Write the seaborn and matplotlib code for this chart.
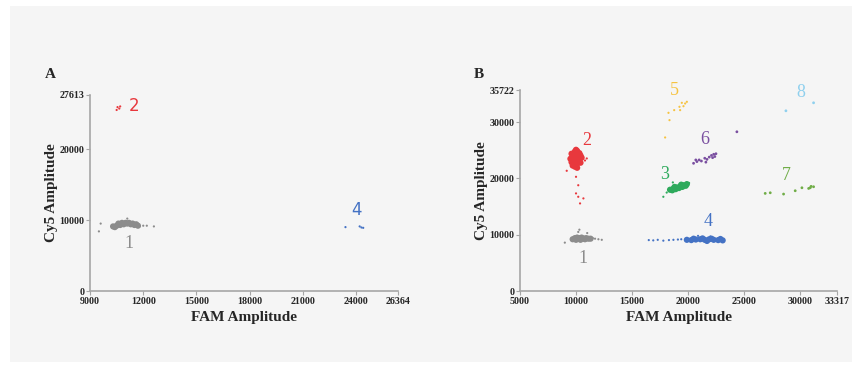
import pandas as pd
import seaborn as sns
import matplotlib.pyplot as plt
from matplotlib.patches import Rectangle

sns.set_theme(style="white")
plt.rcParams['font.family'] = ['Liberation Serif', 'DejaVu Serif']

# --- panel A droplets (FAM, Cy5) ---
a1_core_x = [10300, 10500, 10700, 10900, 11100, 11300, 11500, 11700, 10600, 10800, 11000, 11200, 11400, 10400, 11600]
a1_core_y = [9100, 9200, 9300, 9400, 9500, 9400, 9300, 9200, 9500, 9600, 9600, 9600, 9500, 9000, 9400]
a1_x = [9500, 9600, 12200, 12600, 11100, 12000, 11800]
a1_y = [8400, 9500, 9200, 9100, 10200, 9200, 9100]
a2_x = [10550, 10700, 10500, 10650]
a2_y = [25900, 26000, 25500, 25700]
a4_x = [23400, 24200, 24400, 24300]
a4_y = [9000, 9100, 8900, 8950]

# --- panel B droplets ---
b1_core_x = [9700, 9900, 10100, 10300, 10500, 10700, 10900, 11100, 10000, 10400, 10800, 11300]
b1_core_y = [9200, 9400, 9500, 9400, 9500, 9300, 9400, 9300, 9100, 9100, 9200, 9300]
b1_x = [9000, 11700, 12000, 12300, 10300, 10200, 11000, 11500]
b1_y = [8600, 9300, 9200, 9100, 10900, 10500, 10300, 9400]

b2_core_x = [9500, 9700, 9900, 10100, 10300, 10500, 9600, 9800, 10000, 10200, 10400, 9700,
             9900, 10100, 10300, 9800, 10000, 10200, 9900, 10100, 9600, 10400]
b2_core_y = [23500, 24200, 24800, 24900, 24500, 23700, 22900, 23300, 23800, 23400, 22800, 22300,
             22500, 22600, 23200, 24000, 25100, 24100, 22100, 21900, 24400, 24100]
b2_x = [10000, 10200, 10000, 10200, 10660, 10360, 9170, 10960, 10800]
b2_y = [20300, 18800, 17350, 16750, 16460, 15570, 21370, 23560, 23200]

b3_core_x = [18400, 18700, 19000, 19300, 19600, 19900, 18600, 18900, 19200, 19500, 19800, 18800, 19400]
b3_core_y = [18000, 18200, 18400, 18600, 18800, 19000, 17900, 18100, 18300, 18500, 18700, 18500, 18900]
b3_x = [17800, 18650, 18100, 20100]
b3_y = [16750, 19300, 17500, 19200]

b4_core_x = [19900, 20300, 20700, 21100, 21500, 21900, 22300, 22700, 23100, 20500, 21300, 22100, 22900, 21700]
b4_core_y = [9100, 9050, 9150, 9200, 9100, 9200, 9100, 9050, 9000, 9300, 9350, 9300, 9250, 8900]
b4_x = [16500, 16900, 17300, 17800, 18300, 18700, 19100, 19400, 20900, 22000]
b4_y = [9050, 9000, 9100, 8950, 9050, 9100, 9150, 9200, 9800, 9700]

b5_x = [17960, 18350, 18260, 18770, 19300, 19600, 19900, 19450, 19240, 19750]
b5_y = [27290, 30370, 31670, 32150, 32150, 32850, 33630, 33450, 32740, 33330]

b6_x = [20500, 20800, 21000, 21200, 21500, 21700, 21900, 22100, 22300, 22400, 22500, 22200, 21600, 20700, 24370]
b6_y = [22700, 23000, 23300, 23100, 23600, 23400, 23800, 24100, 24300, 23900, 24400, 23700, 22900, 23300, 28300]

b7_x = [26900, 27350, 28540, 29580, 30180, 30780, 31220, 30920, 31000]
b7_y = [17350, 17460, 17230, 17820, 18350, 18230, 18530, 18350, 18600]

b8_x = [28750, 31220]
b8_y = [32030, 33450]

colors = {"1": "#8c8c8c", "2": "#e8383d", "3": "#2eaa5c", "4": "#4472c4",
          "5": "#f5c342", "6": "#7a4fa0", "7": "#70ad47", "8": "#8fd0ee"}


def frame(groups):
    rows = []
    for cl, kind, xs, ys in groups:
        for x, y in zip(xs, ys):
            rows.append({"cluster": cl, "kind": kind, "FAM": x, "Cy5": y})
    return pd.DataFrame(rows)


dfa = frame([("1", "core", a1_core_x, a1_core_y), ("1", "stray", a1_x, a1_y),
             ("2", "stray", a2_x, a2_y), ("4", "stray", a4_x, a4_y)])
dfb = frame([("1", "core", b1_core_x, b1_core_y), ("1", "stray", b1_x, b1_y),
             ("2", "core", b2_core_x, b2_core_y), ("2", "stray", b2_x, b2_y),
             ("3", "core", b3_core_x, b3_core_y), ("3", "stray", b3_x, b3_y),
             ("4", "core", b4_core_x, b4_core_y), ("4", "stray", b4_x, b4_y),
             ("5", "stray", b5_x, b5_y), ("6", "mid", b6_x, b6_y),
             ("7", "mid", b7_x, b7_y), ("8", "mid", b8_x, b8_y)])

fig = plt.figure(figsize=(8.64, 3.72), dpi=100, facecolor="white")
fig.patches.append(Rectangle((10 / 864, 10 / 372), 842 / 864, 356 / 372,
                             transform=fig.transFigure, facecolor="#f5f5f5",
                             edgecolor="none", zorder=-10))

axA = fig.add_axes([0.1042, 0.2177, 0.3565, 0.527])
axB = fig.add_axes([0.6019, 0.2177, 0.3669, 0.5403])

sizes = {"core": 20, "mid": 4, "stray": 2.5}
for ax, df in [(axA, dfa), (axB, dfb)]:
    ax.set_facecolor("#f5f5f5")
    sns.scatterplot(data=df, x="FAM", y="Cy5", hue="cluster", size="kind",
                    sizes=sizes, palette=colors, linewidth=0, legend=False, ax=ax)
    for side in ["top", "right"]:
        ax.spines[side].set_visible(False)
    for side in ["left", "bottom"]:
        ax.spines[side].set_color("#a6a6a6")
        ax.spines[side].set_linewidth(1.2)
    ax.tick_params(axis="both", length=3, width=0.8, color="#a6a6a6", pad=1,
                   labelsize=7.2, direction="out", bottom=True, left=True)
    ax.set_xlabel("FAM Amplitude", fontsize=11, fontweight="bold", labelpad=4)
    ax.set_ylabel("Cy5 Amplitude", fontsize=11, fontweight="bold", labelpad=1)

axA.set_xlim(9000, 26364)
axA.set_ylim(0, 27613)
axA.set_xticks([9000, 12000, 15000, 18000, 21000, 24000, 26364])
axA.set_yticks([0, 10000, 20000, 27613])
axB.set_xlim(5000, 33317)
axB.set_ylim(0, 35722)
axB.set_xticks([5000, 10000, 15000, 20000, 25000, 30000, 33317])
axB.set_yticks([0, 10000, 20000, 30000, 35722])
for ax in (axA, axB):
    ax.set_xticklabels([str(int(t)) for t in ax.get_xticks()], fontweight="bold", fontsize=7.2)
    ax.set_yticklabels([str(int(t)) for t in ax.get_yticks()], fontweight="bold", fontsize=7.2)

# cluster numbers
axA.text(11200, 6700, "1", color=colors["1"], fontsize=13, ha="center", va="center")
axA.text(11500, 26100, "2", color=colors["2"], fontsize=12, ha="center", va="center",
         family=["DejaVu Sans"])
axA.text(24000, 11400, "4", color=colors["4"], fontsize=12, ha="center", va="center",
         family=["DejaVu Sans"])

lab_b = [("1", 10660, 5800), ("2", 10960, 26800), ("3", 17900, 20700), ("4", 21780, 12300),
         ("5", 18770, 35700), ("6", 21540, 27000), ("7", 28780, 20600), ("8", 30120, 35200)]
for t, x, y in lab_b:
    axB.text(x, y, t, color=colors[t], fontsize=13, ha="center", va="center")

fig.text(45 / 864, 1 - 75 / 372, "A", fontsize=11, fontweight="bold", va="center")
fig.text(474 / 864, 1 - 75 / 372, "B", fontsize=11, fontweight="bold", va="center")

fig.savefig("out.png", dpi=100, facecolor="white")
